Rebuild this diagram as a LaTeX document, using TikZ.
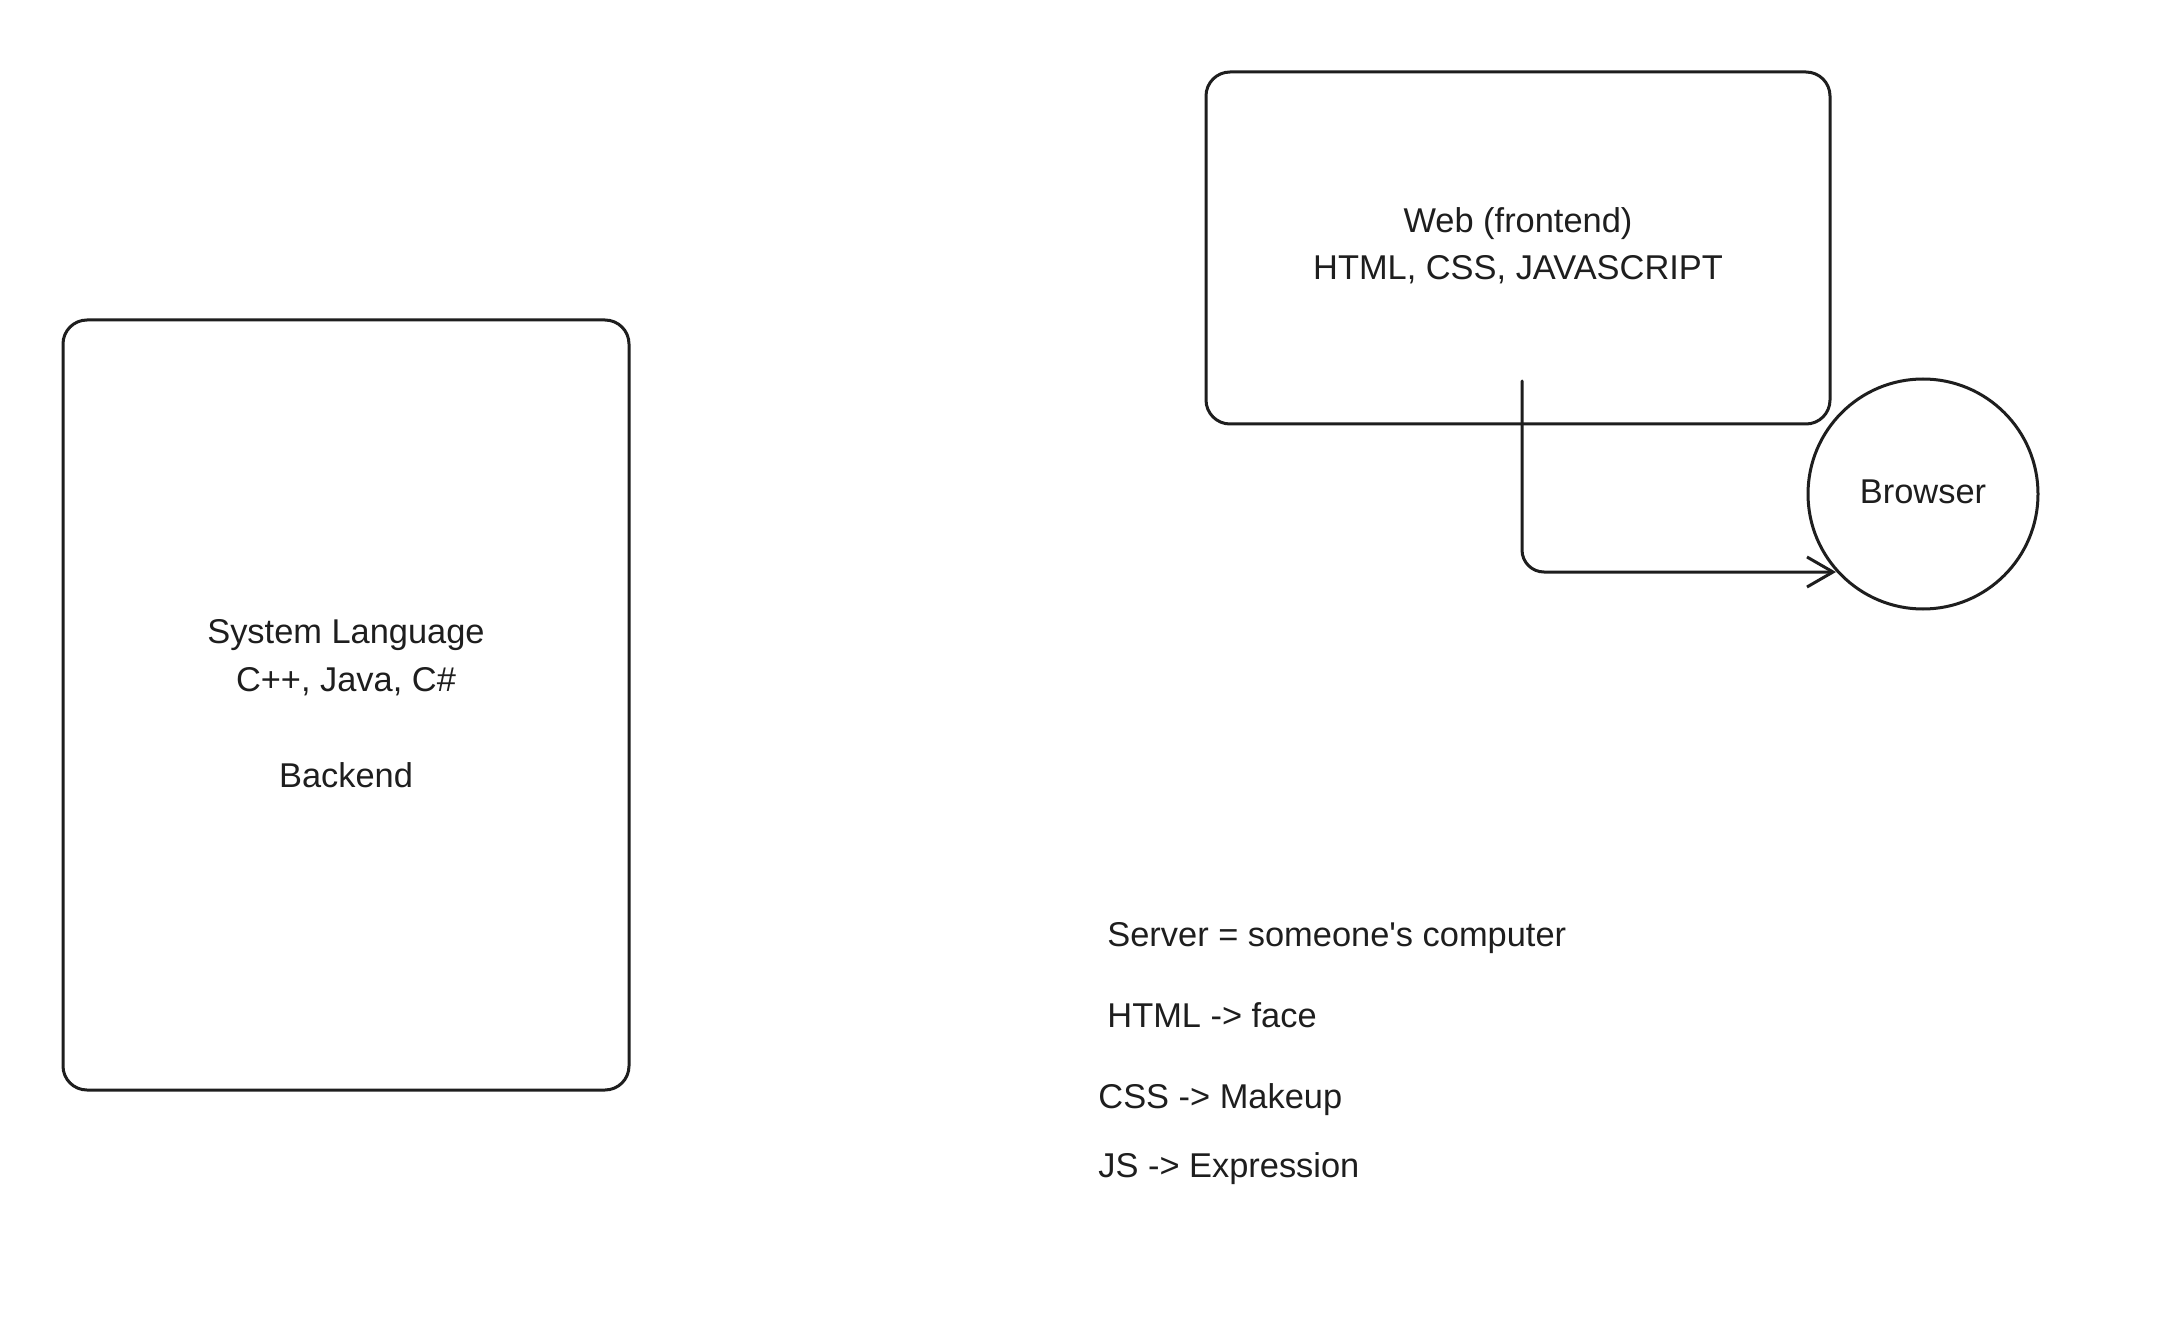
\documentclass[tikz,border=0pt]{standalone}
\usepackage{fontspec}
\setmainfont{Liberation Sans}[Ligatures=TeXOff]
\usetikzlibrary{arrows.meta}
\definecolor{ink}{HTML}{1E1E1E}
\begin{document}
\begin{tikzpicture}[x=0.5pt,y=-0.5pt,
  sketch/.style={draw=ink,line width=1.5pt,line cap=round,line join=round},
  boxshape/.style={sketch,rounded corners=12pt},
  lbl/.style={inner sep=0pt,anchor=base,text=ink,font=\fontsize{17.2pt}{21pt}\selectfont},
  note/.style={inner sep=0pt,anchor=base west,text=ink,font=\fontsize{17.2pt}{21pt}\selectfont}]
\useasboundingbox[fill=white] (0,0) rectangle (2168,1342);

% left box
\node[boxshape,minimum width=283pt,minimum height=385pt,inner sep=0pt] (sys) at (346,705) {};
\node[lbl] (sys1) at (346,643) {System Language};
\node[lbl] (sys2) at (346,691) {C++, Java, C\#};
\node[lbl] (sys3) at (346,787) {Backend};

% web box
\node[boxshape,minimum width=312pt,minimum height=176pt,inner sep=0pt] (web) at (1518,248) {};
\node[lbl] (web1) at (1518,233) {Web (frontend)};
\node[lbl] (web2) at (1518,280) {HTML, CSS, JAVASCRIPT};

% browser
\node[sketch,circle,minimum size=115pt,inner sep=0pt] (browser) at (1923,494) {};
\node[lbl] (browserlbl) at (1923,503) {Browser};

% arrow
\coordinate (astart) at (1522,381);
\coordinate (aend) at (1836,572);
\draw[sketch,rounded corners=11pt,-{Straight Barb[length=13pt,width=15pt]}] (astart) |- (aend);

% notes
\node[note] (n1) at (1107,946) {Server = someone's computer};
\node[note] (n2) at (1107,1027) {HTML -> face};
\node[note] (n3) at (1098,1108) {CSS -> Makeup};
\node[note] (n4) at (1098,1177) {JS -> Expression};
\end{tikzpicture}
\end{document}
